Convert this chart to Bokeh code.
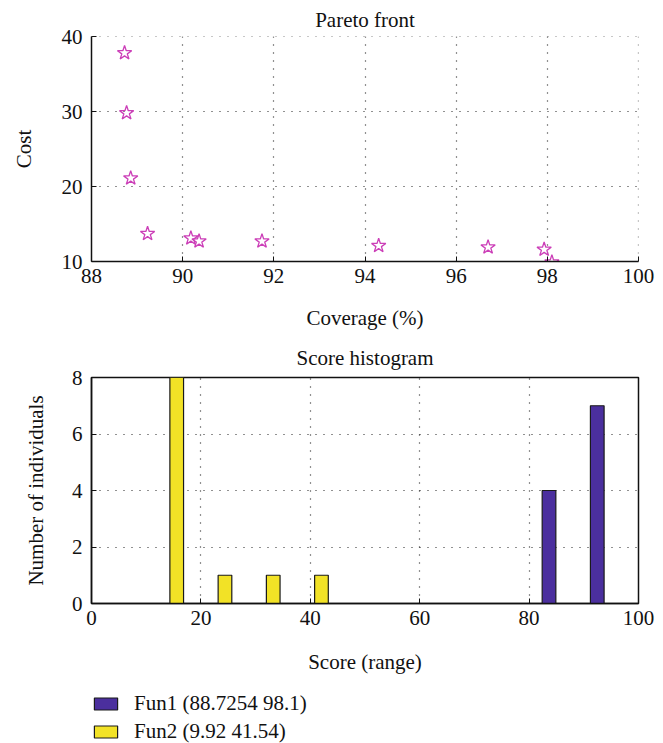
from bokeh.plotting import figure
from bokeh.layouts import column
from bokeh.models import (ColumnDataSource, FixedTicker, Legend, LegendItem, Span)
from bokeh.transform import dodge
from bokeh.embed import file_html
from bokeh.resources import INLINE

# Pareto front: coverage (%) vs cost of the non-dominated individuals
coverage = [88.7254, 88.77, 88.86, 89.23, 90.18, 90.36, 91.74, 94.30, 96.70, 97.93, 98.1]
cost = [37.8, 29.8, 21.1, 13.7, 13.1, 12.7, 12.7, 12.1, 11.9, 11.6, 9.9]
pareto_xticks = [88, 90, 92, 94, 96, 98, 100]
pareto_yticks = [10, 20, 30, 40]

# Score histogram: shared bin centres, counts per objective
bin_centers = [14.33, 23.15, 31.97, 40.79, 49.61, 58.43, 67.25, 76.07, 84.89, 93.71]
fun1_counts = [0, 0, 0, 0, 0, 0, 0, 0, 4, 7]
fun2_counts = [8, 1, 1, 1, 0, 0, 0, 0, 0, 0]
fun1_label = "Fun1 (88.7254 98.1)"
fun2_label = "Fun2 (9.92 41.54)"
hist_xticks = [0, 20, 40, 60, 80, 100]
hist_yticks = [0, 2, 4, 6, 8]

FONT = "Liberation Serif"
FS = "21px"
INK = "#111111"
GRID_DASH = "1 7"
FUN1_COLOR = "#4B2F9E"
FUN2_COLOR = "#F2E226"
BAR_EDGE = "#1a1a1a"


def style(p, outline):
    p.title.text_font = FONT
    p.title.text_font_size = FS
    p.title.text_font_style = "normal"
    p.title.align = "center"
    p.title.text_color = INK
    for ax in (p.xaxis, p.yaxis):
        ax.axis_label_text_font = FONT
        ax.axis_label_text_font_size = FS
        ax.axis_label_text_font_style = "normal"
        ax.axis_label_text_color = INK
        ax.major_label_text_font = FONT
        ax.major_label_text_font_size = FS
        ax.major_label_text_color = INK
        ax.axis_line_color = INK
        ax.axis_line_width = 1.5
        ax.major_tick_in = 5
        ax.major_tick_out = 0
        ax.major_tick_line_color = INK
        ax.minor_tick_line_color = None
    p.xaxis.major_label_standoff = 7
    p.yaxis.major_label_standoff = 9
    for g in (p.xgrid, p.ygrid):
        g.grid_line_color = "#222222"
        g.grid_line_dash = GRID_DASH
        g.grid_line_width = 1.2
    p.background_fill_color = "white"
    p.border_fill_color = "white"
    if outline:
        p.outline_line_color = INK
        p.outline_line_width = 1.5
        p.outline_line_alpha = 1.0
    else:
        p.outline_line_color = None


# --- top: Pareto front ---
p1 = figure(frame_width=547, frame_height=225, min_border_left=91, min_border_right=25,
            min_border_top=36, min_border_bottom=74,
            x_range=(pareto_xticks[0], pareto_xticks[-1]),
            y_range=(pareto_yticks[0], pareto_yticks[-1]),
            title="Pareto front",
            x_axis_label="Coverage (%)", y_axis_label="Cost",
            toolbar_location=None, output_backend="svg")
style(p1, outline=False)
p1.title.standoff = 9
p1.xaxis.ticker = FixedTicker(ticks=pareto_xticks)
p1.yaxis.ticker = FixedTicker(ticks=pareto_yticks)
p1.xaxis.axis_label_standoff = 20
p1.yaxis.axis_label_standoff = 23

# dotted guides along the open top and right edges
for loc, dim in ((pareto_xticks[-1], "height"), (pareto_yticks[-1], "width")):
    p1.add_layout(Span(location=loc, dimension=dim, line_color="#222222",
                       line_dash=GRID_DASH, line_width=1.2))

pareto = ColumnDataSource(dict(x=coverage, y=cost))
p1.scatter("x", "y", source=pareto, marker="star", size=15,
           fill_color=None, line_color="#CC3FB8", line_width=1.3)

# --- bottom: score histogram ---
p2 = figure(frame_width=547, frame_height=226, min_border_left=91, min_border_right=25,
            min_border_top=42, min_border_bottom=88,
            x_range=(hist_xticks[0], hist_xticks[-1]),
            y_range=(hist_yticks[0], hist_yticks[-1]),
            title="Score histogram",
            x_axis_label="Score (range)", y_axis_label="Number of individuals",
            toolbar_location=None, output_backend="svg")
style(p2, outline=True)
p2.title.standoff = 15
p2.xaxis.ticker = FixedTicker(ticks=hist_xticks)
p2.yaxis.ticker = FixedTicker(ticks=hist_yticks)
p2.xaxis.axis_label_standoff = 22
p2.yaxis.axis_label_standoff = 21

hist = ColumnDataSource(dict(x=bin_centers, f1=fun1_counts, f2=fun2_counts))
p2.vbar(x=dodge("x", -1.25), top="f1", width=2.5, source=hist,
        fill_color=FUN1_COLOR, line_color=BAR_EDGE, line_width=1.2)
p2.vbar(x=dodge("x", 1.25), top="f2", width=2.5, source=hist,
        fill_color=FUN2_COLOR, line_color=BAR_EDGE, line_width=1.2)

# --- legend strip under the histogram ---
# Hidden copies of the two bar series supply the legend keys.
p3 = figure(frame_width=547, frame_height=52, min_border_left=91, min_border_right=25,
            min_border_top=0, min_border_bottom=0,
            x_range=(hist_xticks[0], hist_xticks[-1]), y_range=(0, 1),
            toolbar_location=None, output_backend="svg")
p3.axis.visible = False
p3.grid.visible = False
p3.outline_line_color = None
p3.background_fill_color = "white"
p3.border_fill_color = "white"
k1 = p3.vbar(x=dodge("x", -1.25), top="f1", width=2.5, source=hist, visible=False,
             fill_color=FUN1_COLOR, line_color=BAR_EDGE, line_width=1.2)
k2 = p3.vbar(x=dodge("x", 1.25), top="f2", width=2.5, source=hist, visible=False,
             fill_color=FUN2_COLOR, line_color=BAR_EDGE, line_width=1.2)
legend = Legend(items=[LegendItem(label=fun1_label, renderers=[k1]),
                       LegendItem(label=fun2_label, renderers=[k2])],
                location="top_left", orientation="vertical",
                label_text_font=FONT, label_text_font_size=FS,
                label_text_color=INK, label_height=24,
                glyph_width=29, glyph_height=15, spacing=3,
                label_standoff=14, padding=0, margin=0,
                inactive_fill_alpha=0,
                border_line_color=None, background_fill_alpha=0)
p3.add_layout(legend)

layout = column(p1, p2, p3, spacing=0)
open("out.html", "w").write(file_html(layout, INLINE))
